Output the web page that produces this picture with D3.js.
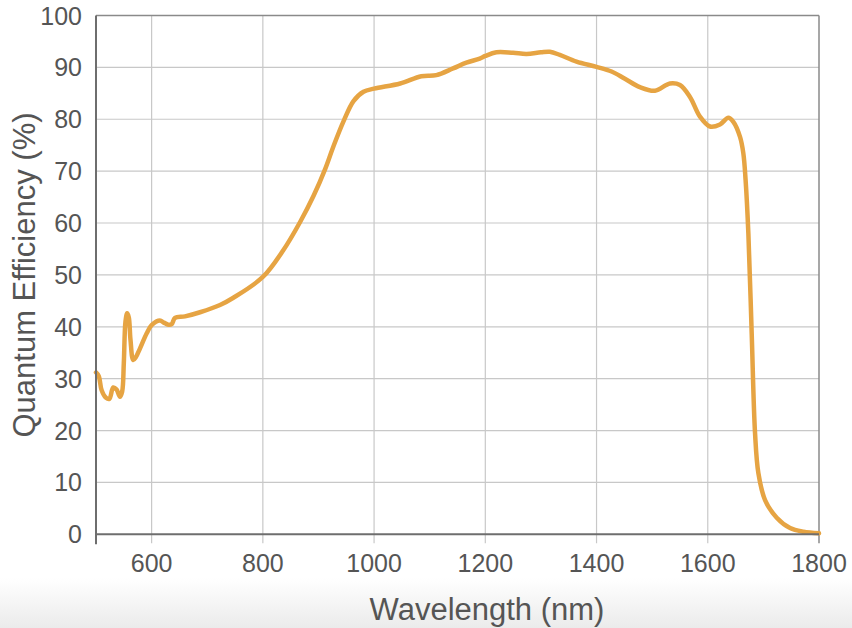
<!DOCTYPE html>
<html>
<head>
<meta charset="utf-8">
<script src="https://cdn.jsdelivr.net/npm/d3@7"></script>
<style>
  body { margin: 0; background: #fff; }
  text { font-family: "Liberation Sans", Arial, sans-serif; fill: #555; }
</style>
</head>
<body>
<script>
const width = 852;
const height = 628;

const wavelength = [500, 505, 510, 518, 524, 531, 537, 543, 547, 550, 553, 556, 559, 562, 567, 572, 579, 591,
  600, 615, 622, 630, 636, 642, 660, 687, 723, 747, 800, 837, 867, 891, 912, 927, 945, 963, 981,
  1000, 1047, 1085, 1112, 1142, 1166, 1190, 1200, 1220, 1250, 1274, 1300, 1316, 1334, 1364, 1400,
  1427, 1451, 1478, 1505, 1532, 1550, 1568, 1586, 1604, 1622, 1637, 1646, 1658, 1664, 1668, 1673,
  1679, 1685, 1691, 1703, 1724, 1748, 1772, 1800];
const qe = [31.2, 30.5, 27.8, 26.3, 26.1, 28.3, 27.9, 26.5, 27.5, 33, 41, 42.6, 41.8, 37.5, 33.6, 34.2, 35.8, 38.7,
  40.3, 41.2, 40.8, 40.4, 40.5, 41.7, 42.0, 42.8, 44.2, 45.6, 49.6, 54.8, 60.2, 65.2, 70.4, 74.8, 79.6, 83.5, 85.3,
  85.9, 86.9, 88.3, 88.5, 89.8, 90.9, 91.7, 92.2, 92.9, 92.8, 92.6, 92.9, 93.0, 92.4, 91.1, 90.1,
  89.2, 87.8, 86.2, 85.5, 86.9, 86.6, 84.3, 80.5, 78.6, 79.0, 80.3, 79.5, 76.6, 73.4, 68.3, 58,
  38.7, 19.5, 11.8, 6.6, 3.2, 1.2, 0.5, 0.2];

const xTicks = [600, 800, 1000, 1200, 1400, 1600, 1800];
const yTicks = [0, 10, 20, 30, 40, 50, 60, 70, 80, 90, 100];

const plotLeft = 96, plotRight = 819, plotTop = 15.5, plotBottom = 534.3;

const svg = d3.select("body")
  .append("svg")
  .attr("width", width)
  .attr("height", height);

// grey band at the bottom
const defs = svg.append("defs");
const grad = defs.append("linearGradient")
  .attr("id", "band")
  .attr("x1", 0).attr("y1", 0).attr("x2", 0).attr("y2", 1);
grad.append("stop").attr("offset", "0%").attr("stop-color", "#ffffff");
grad.append("stop").attr("offset", "100%").attr("stop-color", "#ebebeb");
svg.append("rect")
  .attr("x", 0).attr("y", 578)
  .attr("width", width).attr("height", height - 578)
  .attr("fill", "url(#band)");

const x = d3.scaleLinear().domain([500, 1800]).range([plotLeft, plotRight]);
const y = d3.scaleLinear().domain([0, 100]).range([plotBottom, plotTop]);

// grid
svg.append("g").selectAll("line")
  .data(xTicks.slice(0, -1))
  .enter().append("line")
  .attr("x1", d => x(d)).attr("x2", d => x(d))
  .attr("y1", plotTop).attr("y2", plotBottom + 9)
  .attr("stroke", "#c8c8c8")
  .attr("stroke-width", 1.2);

svg.append("g").selectAll("line")
  .data(yTicks.slice(1, -1))
  .enter().append("line")
  .attr("x1", plotLeft).attr("x2", plotRight)
  .attr("y1", d => y(d)).attr("y2", d => y(d))
  .attr("stroke", "#c8c8c8")
  .attr("stroke-width", 1.2);

// frame
svg.append("line")
  .attr("x1", plotLeft).attr("x2", plotRight)
  .attr("y1", y(100)).attr("y2", y(100))
  .attr("stroke", "#8a8a8a").attr("stroke-width", 1.5);
svg.append("line")
  .attr("x1", x(1800)).attr("x2", x(1800))
  .attr("y1", plotTop).attr("y2", plotBottom + 9)
  .attr("stroke", "#8a8a8a").attr("stroke-width", 1.5);

// curve
const line = d3.line()
  .x((d, i) => x(wavelength[i]))
  .y(d => y(d))
  .curve(d3.curveCatmullRom.alpha(0.5));

svg.append("path")
  .datum(qe)
  .attr("d", line)
  .attr("fill", "none")
  .attr("stroke", "#e6a443")
  .attr("stroke-width", 4.5)
  .attr("stroke-linejoin", "round")
  .attr("stroke-linecap", "round");

// axes
svg.append("line")
  .attr("x1", plotLeft).attr("x2", plotRight)
  .attr("y1", plotBottom).attr("y2", plotBottom)
  .attr("stroke", "#6e6e6e").attr("stroke-width", 2);
svg.append("line")
  .attr("x1", plotLeft).attr("x2", plotLeft)
  .attr("y1", plotTop).attr("y2", plotBottom + 10)
  .attr("stroke", "#6e6e6e").attr("stroke-width", 2);

// tick labels
svg.append("g").selectAll("text")
  .data(xTicks)
  .enter().append("text")
  .attr("x", d => x(d))
  .attr("y", 572)
  .attr("text-anchor", "middle")
  .style("font-size", "25px")
  .text(d => d);

svg.append("g").selectAll("text")
  .data(yTicks)
  .enter().append("text")
  .attr("x", 82)
  .attr("y", d => y(d) + 9)
  .attr("text-anchor", "end")
  .style("font-size", "25px")
  .text(d => d);

// titles
svg.append("text")
  .attr("x", 487)
  .attr("y", 620)
  .attr("text-anchor", "middle")
  .style("font-size", "31px")
  .text("Wavelength (nm)");

svg.append("text")
  .attr("transform", "translate(35,275) rotate(-90)")
  .attr("text-anchor", "middle")
  .style("font-size", "31px")
  .text("Quantum Efficiency (%)");
</script>
</body>
</html>
